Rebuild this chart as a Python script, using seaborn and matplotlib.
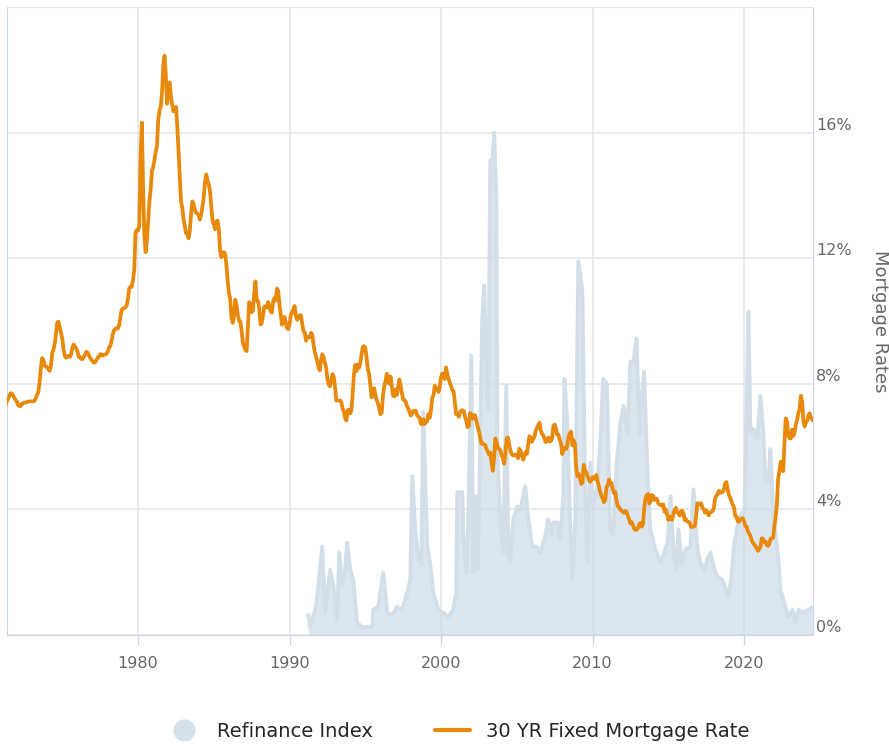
import pandas as pd
import seaborn as sns
import matplotlib.pyplot as plt
from matplotlib.lines import Line2D

# 30 yr fixed mortgage rate, monthly averages (%) from April 1971
rate_start = "1971-04-01"
rate_values = [
    7.31, 7.43, 7.53, 7.60, 7.70, 7.69, 7.63, 7.55, 7.48,
    7.44, 7.32, 7.29, 7.29, 7.37, 7.38, 7.40, 7.40, 7.42, 7.43, 7.44, 7.44,
    7.44, 7.44, 7.46, 7.54, 7.65, 7.73, 8.05, 8.50, 8.82, 8.77, 8.58, 8.54,
    8.54, 8.46, 8.41, 8.58, 8.97, 9.09, 9.28, 9.59, 9.96, 9.98, 9.79, 9.62,
    9.43, 9.10, 8.89, 8.83, 8.86, 8.89, 8.86, 8.94, 9.16, 9.25, 9.20, 9.12,
    9.04, 8.86, 8.84, 8.79, 8.79, 8.86, 8.92, 9.02, 8.99, 8.92, 8.83, 8.77,
    8.72, 8.67, 8.69, 8.75, 8.83, 8.86, 8.94, 8.94, 8.90, 8.92, 8.93, 8.96,
    9.02, 9.15, 9.20, 9.36, 9.57, 9.71, 9.74, 9.78, 9.76, 9.86, 10.11, 10.35,
    10.39, 10.41, 10.43, 10.50, 10.69, 11.04, 11.09, 11.09, 11.30, 11.64, 12.83, 12.90,
    12.88, 13.04, 15.28, 16.32, 14.26, 12.71, 12.19, 12.56, 13.20, 13.79, 14.21, 14.79,
    14.90, 15.13, 15.40, 15.58, 16.40, 16.70, 16.83, 17.29, 18.16, 18.45, 17.83, 16.92,
    17.40, 17.60, 17.16, 16.89, 16.68, 16.70, 16.82, 16.27, 15.43, 14.61, 13.82, 13.62,
    13.25, 13.04, 12.80, 12.78, 12.63, 12.87, 13.42, 13.81, 13.73, 13.54, 13.44, 13.42,
    13.37, 13.23, 13.39, 13.65, 13.94, 14.42, 14.67, 14.47, 14.35, 14.13, 13.64, 13.18,
    13.08, 12.92, 13.17, 13.20, 12.91, 12.22, 12.03, 12.19, 12.19, 12.14, 11.78, 11.26,
    10.88, 10.71, 10.08, 9.94, 10.14, 10.68, 10.51, 10.20, 10.01, 9.98, 9.70, 9.31,
    9.20, 9.08, 9.04, 9.83, 10.60, 10.54, 10.28, 10.33, 10.89, 11.26, 10.65, 10.64,
    10.38, 9.89, 9.93, 10.20, 10.46, 10.46, 10.43, 10.60, 10.48, 10.30, 10.27, 10.61,
    10.73, 10.65, 11.03, 10.95, 10.54, 10.21, 9.88, 9.99, 10.13, 9.95, 9.77, 9.74,
    9.90, 10.20, 10.27, 10.37, 10.48, 10.16, 10.04, 10.10, 10.18, 10.18, 9.93, 9.67,
    9.64, 9.37, 9.50, 9.49, 9.47, 9.62, 9.57, 9.24, 9.01, 8.86, 8.71, 8.50,
    8.43, 8.76, 8.94, 8.85, 8.67, 8.51, 8.13, 7.98, 7.92, 8.09, 8.31, 8.22,
    7.91, 7.47, 7.47, 7.47, 7.47, 7.42, 7.21, 7.11, 6.91, 6.83, 7.16, 7.17,
    7.06, 7.15, 7.68, 8.32, 8.60, 8.40, 8.61, 8.51, 8.64, 8.93, 9.17, 9.20,
    9.15, 8.83, 8.46, 8.32, 7.96, 7.57, 7.61, 7.86, 7.64, 7.48, 7.38, 7.20,
    7.03, 7.08, 7.62, 7.93, 8.07, 8.32, 8.25, 8.00, 8.23, 7.92, 7.62, 7.60,
    7.82, 7.65, 7.90, 8.14, 7.94, 7.69, 7.50, 7.48, 7.43, 7.29, 7.21, 7.10,
    6.99, 7.04, 7.13, 7.14, 7.14, 7.00, 6.95, 6.92, 6.72, 6.71, 6.87, 6.72,
    6.79, 6.81, 7.04, 6.92, 7.15, 7.55, 7.63, 7.94, 7.82, 7.85, 7.74, 7.91,
    8.21, 8.33, 8.24, 8.15, 8.52, 8.29, 8.15, 8.03, 7.91, 7.80, 7.75, 7.38,
    7.03, 7.05, 6.95, 7.08, 7.15, 7.16, 7.13, 6.95, 6.82, 6.62, 6.66, 7.07,
    7.00, 6.89, 7.01, 6.99, 6.81, 6.65, 6.49, 6.29, 6.09, 6.11, 6.07, 6.05,
    5.92, 5.84, 5.75, 5.81, 5.48, 5.23, 5.63, 6.26, 6.15, 5.95, 5.93, 5.88,
    5.71, 5.64, 5.45, 5.83, 6.27, 6.29, 6.06, 5.87, 5.75, 5.72, 5.73, 5.75,
    5.71, 5.63, 5.93, 5.86, 5.72, 5.58, 5.70, 5.82, 5.77, 6.07, 6.33, 6.27,
    6.15, 6.25, 6.32, 6.51, 6.60, 6.68, 6.76, 6.52, 6.40, 6.36, 6.24, 6.14,
    6.22, 6.29, 6.16, 6.18, 6.26, 6.66, 6.70, 6.57, 6.38, 6.38, 6.21, 6.10,
    5.76, 5.92, 5.97, 5.92, 6.04, 6.32, 6.43, 6.48, 6.04, 6.20, 6.09, 5.33,
    5.06, 5.13, 5.00, 4.81, 4.86, 5.42, 5.22, 5.19, 5.06, 4.95, 4.88, 4.93,
    5.03, 4.99, 4.97, 5.10, 4.89, 4.74, 4.56, 4.43, 4.35, 4.23, 4.30, 4.71,
    4.76, 4.95, 4.84, 4.84, 4.64, 4.51, 4.55, 4.27, 4.11, 4.07, 3.99, 3.96,
    3.92, 3.89, 3.95, 3.91, 3.80, 3.68, 3.55, 3.60, 3.50, 3.38, 3.35, 3.35,
    3.41, 3.53, 3.57, 3.45, 3.54, 4.07, 4.37, 4.46, 4.49, 4.19, 4.26, 4.46,
    4.43, 4.30, 4.34, 4.34, 4.19, 4.16, 4.13, 4.12, 4.16, 3.92, 4.00, 3.86,
    3.67, 3.71, 3.77, 3.67, 3.84, 3.98, 4.05, 3.91, 3.89, 3.80, 3.94, 3.96,
    3.87, 3.66, 3.69, 3.61, 3.60, 3.57, 3.44, 3.44, 3.46, 3.47, 3.77, 4.20,
    4.15, 4.17, 4.20, 4.05, 4.01, 3.90, 3.97, 3.88, 3.81, 3.90, 3.92, 3.95,
    4.03, 4.33, 4.44, 4.47, 4.59, 4.57, 4.53, 4.55, 4.63, 4.83, 4.87, 4.64,
    4.46, 4.37, 4.27, 4.14, 4.07, 3.80, 3.77, 3.62, 3.61, 3.69, 3.70, 3.72,
    3.62, 3.47, 3.45, 3.31, 3.23, 3.16, 3.02, 2.94, 2.89, 2.83, 2.77, 2.68,
    2.74, 2.81, 3.08, 3.06, 2.96, 2.98, 2.87, 2.84, 2.90, 3.07, 3.07, 3.10,
    3.45, 3.76, 4.17, 4.98, 5.23, 5.52, 5.41, 5.22, 6.11, 6.90, 6.81, 6.36,
    6.27, 6.26, 6.54, 6.34, 6.43, 6.71, 6.84, 7.07, 7.20, 7.62, 7.44, 6.82,
    6.64, 6.78, 6.82, 7.00, 7.06, 6.92, 6.85,
]

# refinance index (hidden scale, 10000 sits on the 16% line)
refi_years = [
    1991.23, 1991.36, 1991.7, 1991.9, 1992.15, 1992.35, 1992.68, 1992.88,
    1993.14, 1993.28, 1993.47, 1993.67, 1993.8, 1994.0, 1994.2, 1994.46,
    1994.8, 1995.46, 1995.52, 1995.85, 1996.18, 1996.45, 1996.78, 1997.1,
    1997.44, 1997.77, 1997.97, 1998.1, 1998.3, 1998.5, 1998.7, 1998.82,
    1999.09, 1999.29, 1999.48, 1999.82, 2000.15, 2000.48, 2000.8, 2001.0,
    2001.07, 2001.4, 2001.47, 2001.66, 2001.8, 2002.0, 2002.13, 2002.26,
    2002.4, 2002.52, 2002.6, 2002.72, 2002.85, 2002.99, 2003.12, 2003.25,
    2003.38, 2003.51, 2003.65, 2003.71, 2003.91, 2004.11, 2004.3, 2004.44,
    2004.57, 2004.77, 2005.03, 2005.23, 2005.56, 2005.76, 2006.02, 2006.29,
    2006.55, 2006.88, 2007.08, 2007.3, 2007.41, 2007.68, 2007.87, 2008.07,
    2008.14, 2008.33, 2008.5, 2008.67, 2008.86, 2009.06, 2009.33, 2009.5,
    2009.66, 2009.85, 2010.05, 2010.3, 2010.5, 2010.7, 2010.95, 2011.15,
    2011.35, 2011.6, 2011.85, 2012.05, 2012.3, 2012.5, 2012.7, 2012.9,
    2013.1, 2013.2, 2013.4, 2013.6, 2013.8, 2014.15, 2014.5, 2014.95,
    2015.14, 2015.34, 2015.54, 2015.67, 2015.87, 2016.13, 2016.46, 2016.66,
    2016.92, 2017.12, 2017.38, 2017.58, 2017.78, 2018.05, 2018.24, 2018.57,
    2018.97, 2019.17, 2019.3, 2019.56, 2019.76, 2020.03, 2020.16, 2020.29,
    2020.42, 2020.62, 2020.88, 2021.08, 2021.28, 2021.41, 2021.61, 2021.74,
    2021.94, 2022.07, 2022.27, 2022.4, 2022.6, 2022.93, 2023.2, 2023.4,
    2023.59, 2023.92, 2024.25, 2024.58,
]
refi_values = [
    400, 160, 500, 940, 1760, 440, 1300, 1000,
    300, 1640, 1000, 1300, 1840, 1300, 1100, 240,
    160, 160, 500, 560, 1240, 440, 400, 560,
    500, 840, 1100, 3160, 2100, 1500, 1400, 4440,
    1760, 1400, 840, 500, 440, 360, 500, 840,
    2840, 2840, 1960, 1240, 2300, 5560, 1240, 2760,
    1300, 2560, 4300, 6300, 6960, 5000, 4500, 9440,
    9440, 10000, 8640, 3640, 2300, 1640, 4960, 1640,
    1440, 2300, 2560, 2500, 2960, 2300, 1760, 1760,
    1640, 1960, 2300, 2000, 2240, 2240, 1900, 2760,
    5100, 4240, 2400, 1100, 2300, 7440, 6840, 3000,
    1440, 3440, 2600, 2900, 3760, 5100, 5000, 2100,
    2000, 3440, 4240, 4560, 4000, 5440, 5440, 5900,
    4000, 4600, 5240, 3440, 2100, 1700, 1440, 1840,
    2760, 1700, 1300, 2100, 1400, 1700, 1760, 2900,
    1700, 1440, 1300, 1500, 1640, 1300, 1160, 1100,
    760, 1160, 1700, 2160, 2360, 2500, 4360, 6440,
    4040, 4100, 3900, 4760, 4000, 3040, 3040, 3700,
    2360, 2040, 1500, 900, 700, 360, 500, 240,
    500, 440, 500, 560,
]

year_ticks = [1980, 1990, 2000, 2010, 2020]
pct_ticks = [0, 4, 8, 12, 16, 20]

dates = pd.date_range(rate_start, periods=len(rate_values), freq="MS")
rates = pd.DataFrame({"year": dates.year + (dates.month - 1) / 12, "rate": rate_values})
refi = pd.DataFrame({"year": refi_years, "index": refi_values})

sns.set_style("white")
plt.rcParams["font.family"] = ["DejaVu Sans"]

orange = "#e8890c"
refi_fill = "#c5d6e3"
refi_edge = "#d2dfe8"
axis_col = "#ccd6eb"
grid_col = "#e6e6e6"
text_col = "#666666"

fig = plt.figure(figsize=(8.89, 7.52), dpi=100)
ax = fig.add_axes([7 / 889, 117 / 752, 806 / 889, 628 / 752])
ax2 = ax.twinx()

# refinance area on the base axes
ax.fill_between(refi["year"], refi["index"], color=refi_fill, alpha=0.6, lw=0)
sns.lineplot(data=refi, x="year", y="index", ax=ax, color=refi_edge, lw=2.8)
ax.set_xlim(1971.35, 2024.55)
ax.set_ylim(0, 12500)
ax.set_yticks([v * 625 for v in pct_ticks])
ax.set_xticks(year_ticks)
ax.set_xticklabels([str(y) for y in year_ticks])
ax.set_axisbelow(True)
ax.grid(True, color=grid_col, lw=1.2)
ax.tick_params(axis="y", left=False, labelleft=False)
ax.tick_params(axis="x", bottom=True, length=7, width=1, color=axis_col,
               pad=8, labelsize=11.5, labelcolor=text_col)
ax.set_xlabel("")
ax.set_ylabel("")
for side in ["left", "bottom", "right"]:
    ax.spines[side].set_color(axis_col)
ax.spines["top"].set_color(grid_col)

# mortgage rate line on the right axis
sns.lineplot(data=rates, x="year", y="rate", ax=ax2, color=orange, lw=2.7)
ax2.set_ylim(0, 20)
ax2.set_yticks(pct_ticks[:-1])
ax2.set_yticklabels([f"{v}%" for v in pct_ticks[:-1]])
ax2.tick_params(axis="y", right=True, length=0, pad=2, labelsize=11.5, labelcolor=text_col)
for lab in ax2.get_yticklabels():
    lab.set_va("bottom")
ax2.grid(False)
ax2.set_xlabel("")
ax2.set_ylabel("Mortgage Rates", rotation=270, color=text_col, fontsize=13,
               va="center", ha="center")
ax2.yaxis.set_label_coords(1.083, 0.5)
for side in ax2.spines:
    ax2.spines[side].set_visible(False)

handles = [
    Line2D([], [], marker="o", ls="", markersize=15, color="#d5e1ea"),
    Line2D([], [], color=orange, lw=3),
]
fig.legend(handles, ["Refinance Index", "30 YR Fixed Mortgage Rate"],
           loc="lower center", bbox_to_anchor=(0.515, -0.008), ncol=2, frameon=False,
           fontsize=14, handlelength=1.8, columnspacing=3.2, handletextpad=0.8)

fig.savefig("out.png", dpi=100)
